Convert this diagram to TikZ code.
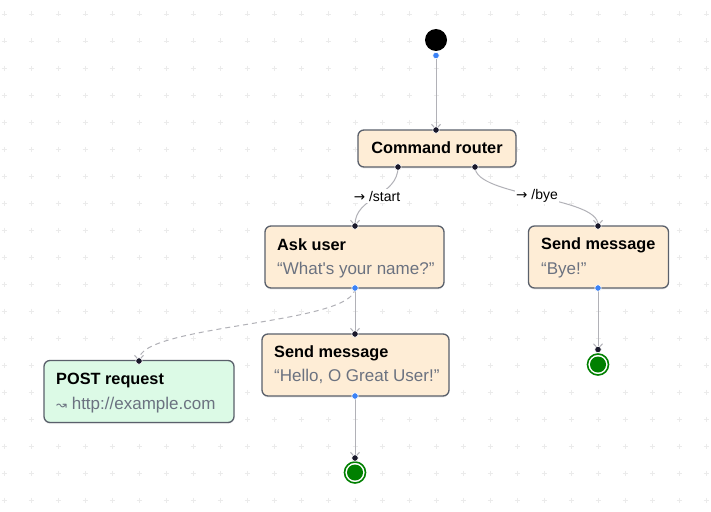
\documentclass[tikz,border=0pt]{standalone}
\usepackage{fontspec}
\setmainfont{Liberation Sans}
\newfontfamily\symfont{DejaVu Sans}
\usetikzlibrary{arrows.meta,shadows}
\definecolor{edgegray}{HTML}{B1B1B7}
\definecolor{boxborder}{HTML}{5A606B}
\definecolor{peach}{HTML}{FEEDD6}
\definecolor{mint}{HTML}{DCFAE6}
\definecolor{subgray}{HTML}{6B7280}
\definecolor{dotdark}{HTML}{1A192B}
\definecolor{dotblue}{HTML}{3B82F6}
\definecolor{endgreen}{HTML}{008000}
\definecolor{gridgray}{HTML}{EBEBEB}
\tikzset{
  statebox/.style={draw=boxborder, line width=1.3pt, rounded corners=6pt, fill=peach, inner sep=0pt,
    drop shadow={opacity=0.12, shadow xshift=0pt, shadow yshift=-1.5pt}},
  postbox/.style={statebox, fill=mint},
  titletext/.style={anchor=base west, inner sep=0pt, font=\fontsize{16.3}{19}\selectfont\bfseries, text=black},
  subtext/.style={anchor=base west, inner sep=0pt, font=\fontsize{17}{20}\selectfont, text=subgray},
  edgelabel/.style={fill=white, inner sep=1.5pt, font=\fontsize{14}{16}\selectfont, text=black},
  edge/.style={draw=edgegray, line width=1pt, -{Straight Barb[length=5pt,width=9pt,line width=1pt]}},
  dashededge/.style={edge, dash pattern=on 5pt off 4pt},
  darkdot/.style={circle, fill=dotdark, draw=white, line width=0.6pt, inner sep=0pt, minimum size=6.5pt},
  bluedot/.style={circle, fill=dotblue, draw=white, line width=0.6pt, inner sep=0pt, minimum size=6.5pt},
  gridplus/.style={draw=gridgray, line width=0.9pt},
}
\begin{document}
\begin{tikzpicture}[x=1pt, y=-1pt]
\useasboundingbox (0,0) rectangle (711,511);
\fill[white] (0,0) rectangle (711,511);
% grid of plus marks
\foreach \i in {0,...,26}{
  \foreach \j in {0,...,18}{
    \draw[gridplus] ({4+27*\i-2.5},{14+27*\j}) -- ++(5,0) ({4+27*\i},{14+27*\j-2.5}) -- ++(0,5);
  }
}
% start
\node[circle, fill=black, inner sep=0pt, minimum size=22pt] (start) at (436,40) {};
% boxes
\node[statebox, minimum width=158pt, minimum height=37pt] (router) at (437,148.5) {};
\node[statebox, minimum width=179pt, minimum height=62pt] (ask) at (354.5,257) {};
\node[statebox, minimum width=140pt, minimum height=62pt] (bye) at (598.5,257) {};
\node[statebox, minimum width=187pt, minimum height=62pt] (hello) at (355.5,365) {};
\node[postbox, minimum width=190pt, minimum height=62pt] (post) at (139,391.5) {};
% texts
\node[anchor=base, inner sep=0pt, font=\fontsize{16.3}{19}\selectfont\bfseries] (routertext) at (437,153.5) {Command router};
\node[titletext] (asktitle) at (277,250) {Ask user};
\node[subtext] (asksub) at (277,274) {“What\textquotesingle s your name?”};
\node[titletext] (byetitle) at (541,249.5) {Send message};
\node[subtext] (byesub) at (541,274.5) {“Bye!”};
\node[titletext] (hellotitle) at (274,357.5) {Send message};
\node[subtext] (hellosub) at (274,381.5) {“Hello, O Great User!”};
\node[titletext] (posttitle) at (56,384.5) {POST request};
\node[subtext] (postsub) at (56,409.5) {{\symfont\fontsize{13}{16}\selectfont ↝} http://example.com};
% end states
\node[circle, draw=endgreen, line width=1.6pt, fill=white, inner sep=0pt, minimum size=21pt] (end1) at (355,472.5) {};
\fill[endgreen] (end1.center) circle (8pt);
\node[circle, draw=endgreen, line width=1.6pt, fill=white, inner sep=0pt, minimum size=21pt] (end2) at (598,364.5) {};
\fill[endgreen] (end2.center) circle (8pt);
% handle coordinates
\coordinate (startout) at (436,55.5);
\coordinate (routerin) at (436,130);
\coordinate (routerL) at (398,167);
\coordinate (routerR) at (475,167);
\coordinate (askin) at (355,226);
\coordinate (askout) at (355,288);
\coordinate (byein) at (598,226);
\coordinate (byeout) at (598,288);
\coordinate (helloin) at (355,334);
\coordinate (helloout) at (355,396);
\coordinate (postin) at (139,361);
\coordinate (end1in) at (355,458);
\coordinate (end2in) at (598,349.5);
% edges
\draw[edge] (startout) -- (routerin);
\draw[edge] (routerL) .. controls (398,196.5) and (355,196.5) .. (askin);
\draw[edge] (routerR) .. controls (475,196.5) and (598,196.5) .. (byein);
\draw[edge] (askout) -- (helloin);
\draw[dashededge] (askout) .. controls (355,324.5) and (139,324.5) .. (postin);
\draw[edge] (helloout) -- (end1in);
\draw[edge] (byeout) -- (end2in);
% edge labels
\node[edgelabel] (lstart) at (377,196) {{\symfont\fontsize{13.5}{16}\selectfont →} /start};
\node[edgelabel] (lbye) at (537,196) {{\symfont\fontsize{13.5}{16}\selectfont →} /bye};
% handles
\node[bluedot] (h1) at (startout) {};
\node[darkdot] (h2) at (routerin) {};
\node[darkdot] (h3) at (routerL) {};
\node[darkdot] (h4) at (routerR) {};
\node[darkdot] (h5) at (askin) {};
\node[bluedot] (h6) at (askout) {};
\node[darkdot] (h7) at (byein) {};
\node[bluedot] (h8) at (byeout) {};
\node[darkdot] (h9) at (helloin) {};
\node[bluedot] (h10) at (helloout) {};
\node[darkdot] (h11) at (postin) {};
\node[darkdot] (h12) at (end1in) {};
\node[darkdot] (h13) at (end2in) {};
\end{tikzpicture}
\end{document}
